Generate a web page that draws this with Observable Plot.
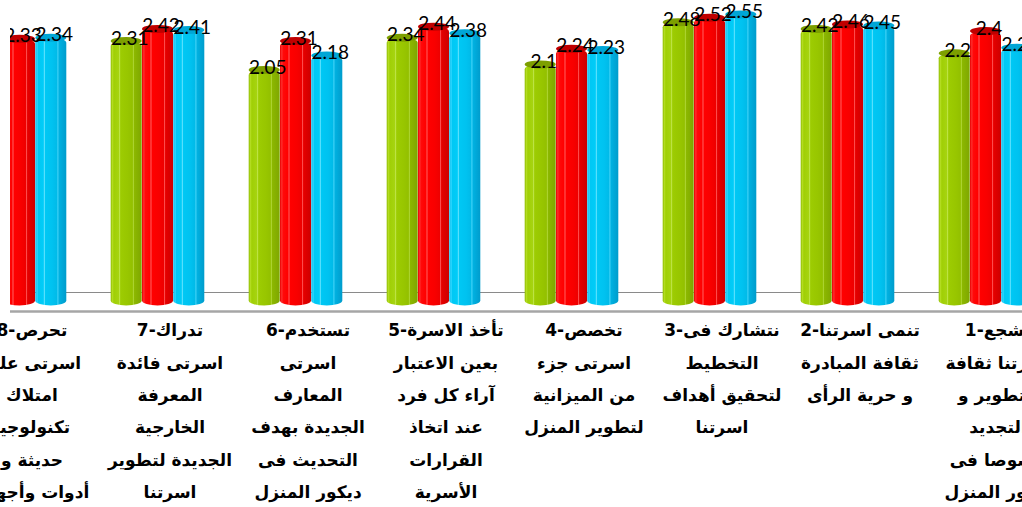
<!DOCTYPE html>
<html><head><meta charset="utf-8">
<script src="https://cdn.jsdelivr.net/npm/d3@7"></script>
<script src="https://cdn.jsdelivr.net/npm/@observablehq/plot@0.6"></script>
<style>
html,body{margin:0;padding:0;background:#fff;overflow:hidden}
</style></head><body><div id="chart"></div>
<script>
// categories left-to-right as shown (8 ... 1)
const categories = ["8","7","6","5","4","3","2","1"];
const categoryLabels = [
  ["تحرص-8","اسرتى على","امتلاك","تكنولوجيا","حديثة و","أدوات وأجهزة"],
  ["تدراك-7","اسرتى فائدة","المعرفة","الخارجية","الجديدة لتطوير","اسرتنا"],
  ["تستخدم-6","اسرتى","المعارف","الجديدة بهدف","التحديث فى","ديكور المنزل"],
  ["تأخذ الاسرة-5","بعين الاعتبار","آراء كل فرد","عند اتخاذ","القرارات","الأسرية"],
  ["تخصص-4","اسرتى جزء","من الميزانية","لتطوير المنزل"],
  ["نتشارك فى-3","التخطيط","لتحقيق أهداف","اسرتنا"],
  ["تنمى اسرتنا-2","ثقافة المبادرة","و حرية الرأى"],
  ["تشجع-1","اسرتنا ثقافة","التطوير و","التجديد","خصوصا فى","ديكور المنزل"]
];
const seriesNames = ["green","red","cyan"];
const greenValues = [2.21, 2.31, 2.05, 2.34, 2.1, 2.48, 2.42, 2.2];
const redValues   = [2.33, 2.42, 2.31, 2.44, 2.24, 2.52, 2.46, 2.4];
const cyanValues  = [2.34, 2.41, 2.18, 2.38, 2.23, 2.55, 2.45, 2.25];

const valuesBySeries = {green: greenValues, red: redValues, cyan: cyanValues};
const capColors = {green: "#7d9f00", red: "#c00000", cyan: "#00a6d6"};
const offsets = {green: -31.3, red: 0, cyan: 31.3};
const labelOf = new Map(categories.map((c, i) => [c, categoryLabels[i].join("\n")]));

const marks = [
  Plot.ruleY([0], {dy: -5.5, stroke: "#8a8a8a", strokeWidth: 1})
];
for (const s of seriesNames) {
  const rows = categories.map((c, i) => ({cat: c, v: valuesBySeries[s][i]}));
  marks.push(
    Plot.barY(rows, {x: "cat", y: "v", dx: offsets[s], insetBottom: -8, rx: 15.6, ry: 5,
      fill: `url(#grad-${s})`, clip: true}),
    Plot.barY(rows, {x: "cat", y1: "v", y2: "v", dx: offsets[s], insetTop: -4, insetBottom: -4,
      rx: 15.6, ry: 4, fill: capColors[s], clip: true})
  );
}
for (const s of seriesNames) {
  const rows = categories.map((c, i) => ({cat: c, v: valuesBySeries[s][i]}));
  marks.push(
    Plot.text(rows, {x: "cat", y: "v", dx: offsets[s] + 3, dy: -3, text: d => String(d.v),
      fontSize: 19, fontFamily: "Lato, 'Open Sans', sans-serif", fill: "#000", clip: true})
  );
}
marks.push(
  Plot.ruleY([0], {dy: 13.5, stroke: "#a6a6a6", strokeWidth: 2.5}),
  Plot.axisX({tickSize: 0, tickPadding: 2, label: null, tickFormat: c => labelOf.get(c),
    fontSize: 17, fontFamily: "'DejaVu Sans', sans-serif", fontWeight: "bold",
    lineHeight: 1.9, dx: 12})
);

const chart = Plot.plot({
  width: 1022,
  height: 507,
  marginLeft: 10, marginRight: 0, marginTop: 0, marginBottom: 196,
  style: {background: "#fff", overflow: "hidden"},
  x: {type: "band", domain: categories, range: [-49, 1055], paddingInner: 0.773, paddingOuter: 0.3865, axis: null, label: null},
  y: {domain: [0, 2.6], range: [297.5, 8.9], axis: null},
  marks
});

const grads = {
  green: [["0%","#8fbc00"],["6%","#b4dd22"],["10%","#a0cf05"],["26%","#a6d410"],["29%","#c2e650"],["32%","#9dcc02"],["55%","#98c600"],["70%","#93c000"],["73%","#b2d838"],["76%","#8cb800"],["100%","#7ea600"]],
  red: [["0%","#e80000"],["6%","#ff3030"],["10%","#ff0a0a"],["26%","#ff0000"],["29%","#ff6a6a"],["32%","#ff0000"],["55%","#f80000"],["70%","#ee0000"],["73%","#ff5858"],["76%","#e60000"],["100%","#cc0000"]],
  cyan: [["0%","#00b4e4"],["6%","#30d8ff"],["10%","#00c8f4"],["26%","#00ccf8"],["29%","#70e6ff"],["32%","#00c8f4"],["55%","#00c2f0"],["70%","#00bae8"],["73%","#50d8fa"],["76%","#00b2e2"],["100%","#009ccc"]]
};
const svg = chart.tagName.toLowerCase() === "svg" ? chart : chart.querySelector("svg");
const defs = document.createElementNS("http://www.w3.org/2000/svg", "defs");
defs.innerHTML = Object.entries(grads).map(([k, stops]) =>
  `<linearGradient id="grad-${k}" x1="0" x2="1" y1="0" y2="0">` +
  stops.map(([o, c]) => `<stop offset="${o}" stop-color="${c}"/>`).join("") +
  `</linearGradient>`).join("");
svg.insertBefore(defs, svg.firstChild);
document.getElementById("chart").appendChild(chart);
</script></body></html>
